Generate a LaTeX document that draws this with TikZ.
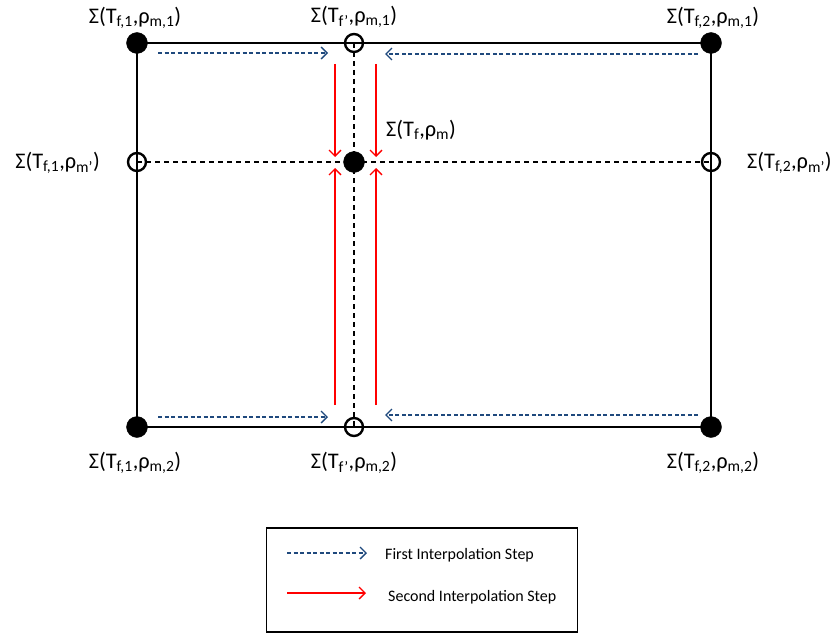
\documentclass[tikz,border=0pt]{standalone}
\usepackage{fontspec}
\setmainfont{Carlito}
\usepackage{xcolor}
\usepackage{tikz}
\usetikzlibrary{positioning, arrows.meta}
\definecolor{stepblue}{RGB}{31, 73, 125}
\definecolor{stepred}{RGB}{255, 0, 0}

\begin{document}
\begin{tikzpicture}[
  x=1pt, y=-1pt,
  font=\fontsize{22.3}{26}\selectfont,
  known/.style={circle, fill=black, draw=black, inner sep=0pt, minimum size=21pt},
  unknown/.style={circle, draw=black, line width=2.4pt, inner sep=0pt, minimum size=18pt},
  grid/.style={line width=1.6pt},
  midline/.style={line width=1.6pt, dashed, dash pattern=on 5pt off 4pt},
  firststep/.style={stepblue, line width=1.3pt, dash pattern=on 4pt off 2.5pt, -{Straight Barb[length=6pt, width=12pt]}},
  secondstep/.style={stepred, line width=1.3pt, -{Straight Barb[length=6pt, width=12pt]}},
  lbl/.style={inner sep=1pt},
  legendtext/.style={font=\fontsize{16}{19}\selectfont, anchor=west, inner sep=0pt}
]
\useasboundingbox (0,0) rectangle (838,634);

% grid points
\node[known] (f1m1) at (137,43) {};
\node[known] (f2m1) at (711,43) {};
\node[known] (f1m2) at (137,427) {};
\node[known] (f2m2) at (711,427) {};
\node[unknown] (fm1) at (354,43) {};
\node[unknown] (fm2) at (354,427) {};
\node[unknown] (f1m) at (137,162) {};
\node[unknown] (f2m) at (711,162) {};

% frame and interpolation lines
\draw[grid] (f1m1.center) -- (fm1.center) -- (f2m1.center) -- (f2m.center) -- (f2m2.center) -- (fm2.center) -- (f1m2.center) -- (f1m.center) -- cycle;
\draw[midline] (fm1.center) -- (fm2.center);
\draw[midline] (f1m.center) -- (f2m.center);
\node[known] (fm) at (354,162) {};

% labels
\node[lbl] at (135,18) {Σ(T\textsubscript{f,1},ρ\textsubscript{m,1})};
\node[lbl] at (354,17) {Σ(T\textsubscript{f’},ρ\textsubscript{m,1})};
\node[lbl] at (713,18) {Σ(T\textsubscript{f,2},ρ\textsubscript{m,1})};
\node[lbl, anchor=east] at (101,163) {Σ(T\textsubscript{f,1},ρ\textsubscript{m’})};
\node[lbl, anchor=west] at (746,163) {Σ(T\textsubscript{f,2},ρ\textsubscript{m’})};
\node[lbl, anchor=west] at (385,130) {Σ(T\textsubscript{f},ρ\textsubscript{m})};
\node[lbl] at (135,463) {Σ(T\textsubscript{f,1},ρ\textsubscript{m,2})};
\node[lbl] at (354,463) {Σ(T\textsubscript{f’},ρ\textsubscript{m,2})};
\node[lbl] at (713,463) {Σ(T\textsubscript{f,2},ρ\textsubscript{m,2})};

% first step (along T_f)
\coordinate (a1) at (158,53);  \coordinate (a2) at (328,53);
\coordinate (b1) at (698,54);  \coordinate (b2) at (385,54);
\coordinate (c1) at (158,417); \coordinate (c2) at (328,417);
\coordinate (d1) at (698,415); \coordinate (d2) at (385,415);
\draw[firststep] (a1) -- (a2);
\draw[firststep] (b1) -- (b2);
\draw[firststep] (c1) -- (c2);
\draw[firststep] (d1) -- (d2);

% second step (along rho_m)
\coordinate (e1) at (335,64);  \coordinate (e2) at (335,157);
\coordinate (g1) at (376,64);  \coordinate (g2) at (376,157);
\coordinate (h1) at (335,405); \coordinate (h2) at (335,168);
\coordinate (k1) at (376,405); \coordinate (k2) at (376,168);
\draw[secondstep] (e1) -- (e2);
\draw[secondstep] (g1) -- (g2);
\draw[secondstep] (h1) -- (h2);
\draw[secondstep] (k1) -- (k2);

% legend
\node[draw, line width=1.6pt, minimum width=311pt, minimum height=104pt, inner sep=0pt] (legend) at (422,580) {};
\coordinate (l1) at (287,553); \coordinate (l2) at (367,553);
\coordinate (l3) at (287,593); \coordinate (l4) at (366,593);
\draw[firststep] (l1) -- (l2);
\draw[secondstep] (l3) -- (l4);
\node[legendtext] (first) at (385,555) {First Interpolation Step};
\node[legendtext] (second) at (388,597) {Second Interpolation Step};
\end{tikzpicture}
\end{document}
